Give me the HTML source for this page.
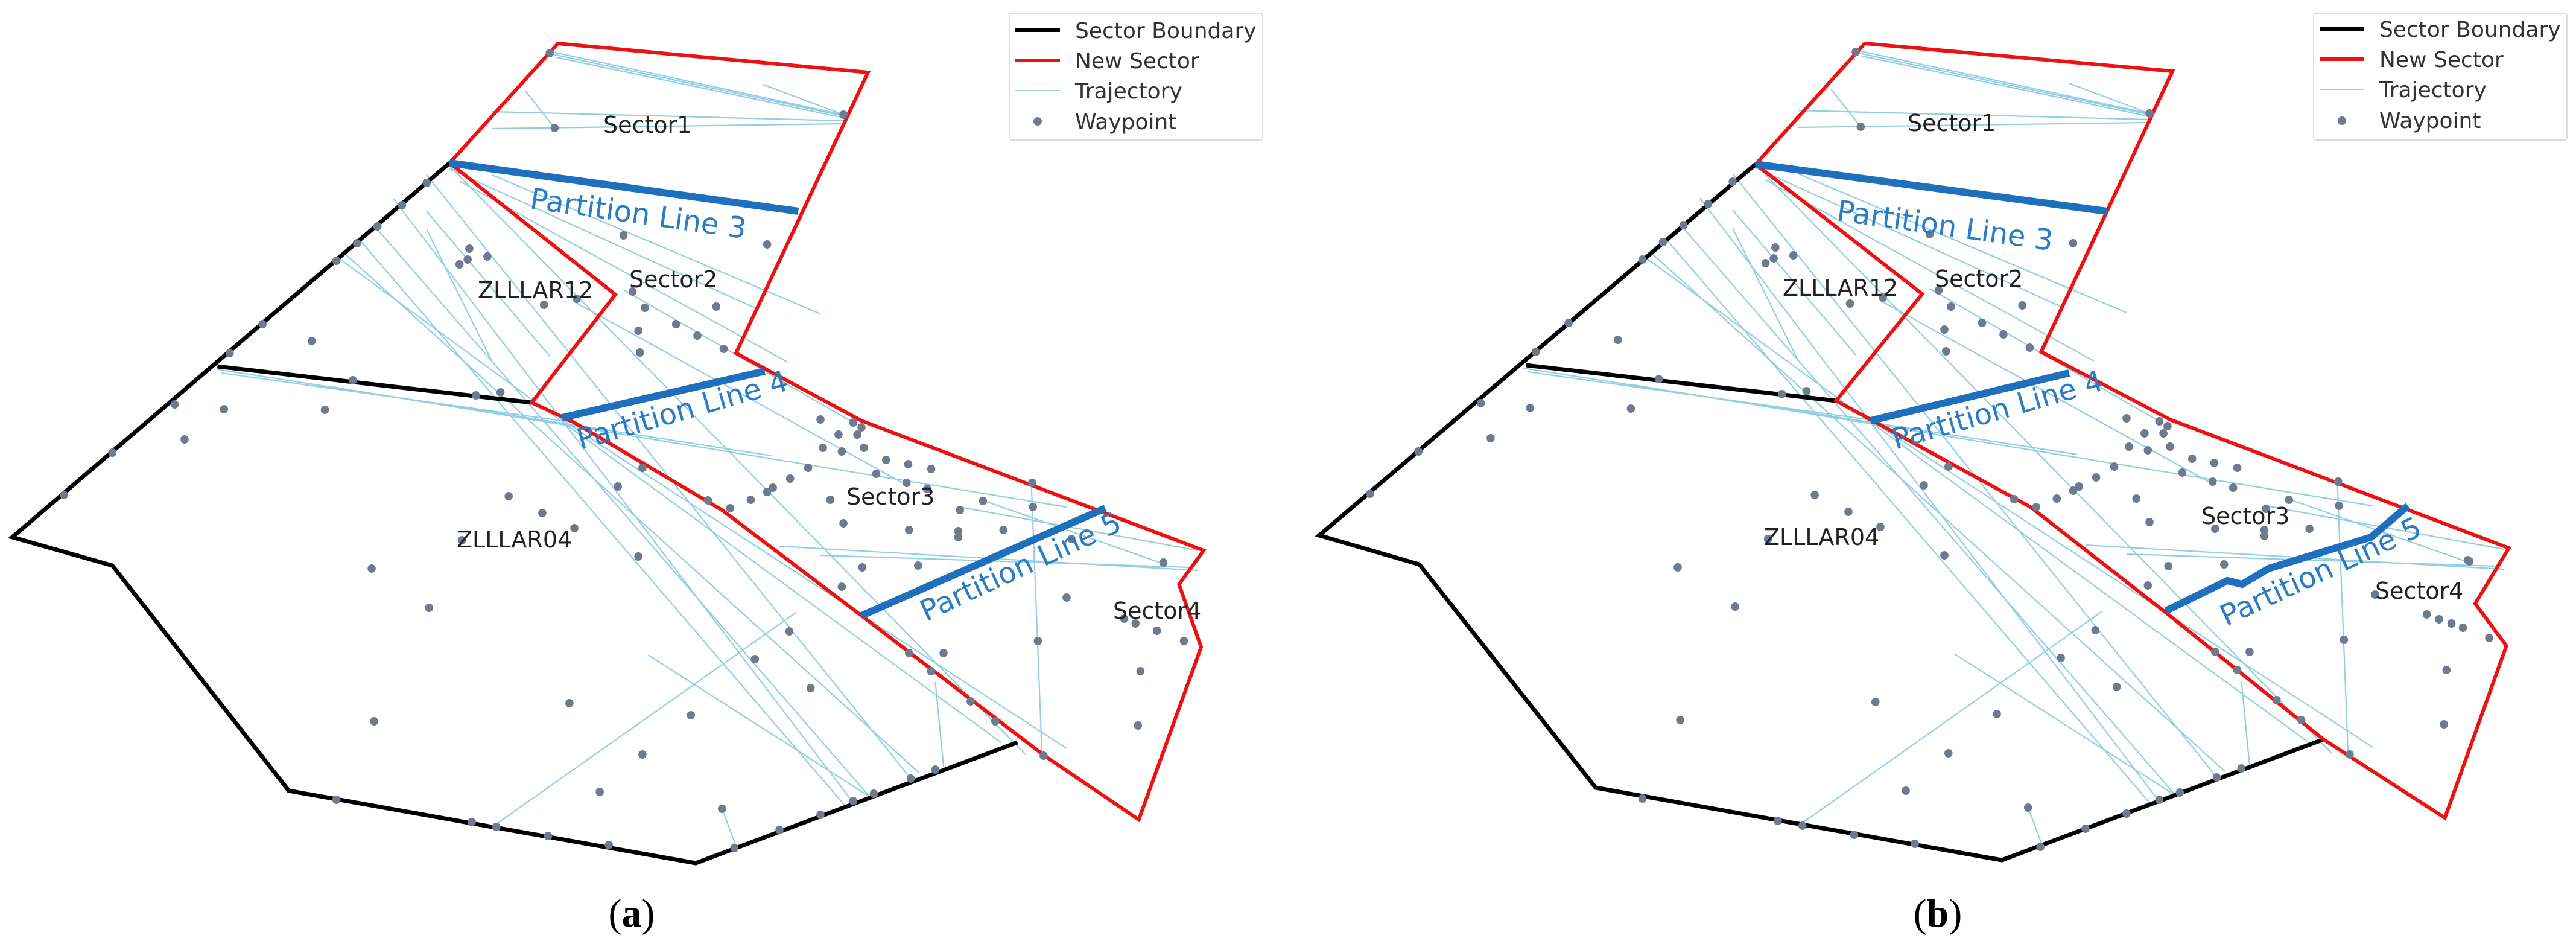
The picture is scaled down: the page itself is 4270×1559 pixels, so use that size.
<!DOCTYPE html>
<html><head><meta charset="utf-8"><style>
html,body{margin:0;padding:0;background:#fff;}
svg{display:block;}
</style></head><body>
<svg width="4270" height="1559" viewBox="0 0 4270 1559" xmlns="http://www.w3.org/2000/svg">
<defs>
<g id="traj" fill="none" stroke="#92cfe3" stroke-width="2.2" vector-effect="non-scaling-stroke">
<path vector-effect="non-scaling-stroke" d="M670,85L1028,190M674,90L1028,192M678,95L1028,195M640,150L676,212M600,185L1028,200M600,213L1028,205M930,140L1028,190
M520,290L1110,1290M480,330L1040,1330M440,400L1030,1335M420,420L1120,1280M415,430L1220,1230M548,275L1250,1250M460,380L1060,1320
M548,280L920,510M560,300L960,600M600,290L1000,520M265,612L940,755M270,618L700,700M400,640L1300,840
M600,1370L970,1015M790,1085L1060,1320M950,905L1460,945M1000,920L1450,940M1257,800L1270,1250M1140,1130L1150,1270
M1170,840L1460,912M1200,830L1420,935M880,1340L898,1405M520,350L670,590M520,380L600,600M760,480L1040,700M700,500L1100,800M690,700L1300,1240"/>
</g>
<g id="dots" fill="#6e7b8f">
<path d="" />
</g>
</defs>

<!-- PANEL A -->
<g transform="scale(1.36,1)">
<use href="#traj"/>
<g fill="none" stroke-linejoin="miter">
<polyline vector-effect="non-scaling-stroke" stroke="#000" stroke-width="7" points="548,270 15,890 137,937 352,1310 848,1430 1240,1230"/>
<polyline vector-effect="non-scaling-stroke" stroke="#000" stroke-width="7" points="265,607 648,667"/>
<polyline vector-effect="non-scaling-stroke" stroke="#ee1111" stroke-width="6" points="548,270 680,72 1058,120 897,585 1050,697 1467,912 1437,968 1464,1072 1388,1358 1273,1252 1050,1020 880,845 700,700 648,667 750,488 548,270"/>
<line vector-effect="non-scaling-stroke" stroke="#1f6fbf" stroke-width="12" x1="548" y1="270" x2="973" y2="350"/>
<line vector-effect="non-scaling-stroke" stroke="#1f6fbf" stroke-width="12" x1="685" y1="692" x2="932" y2="615"/>
<line vector-effect="non-scaling-stroke" stroke="#1f6fbf" stroke-width="12" x1="1050" y1="1020" x2="1347" y2="842"/>
</g>
<g id="dotsA" fill="#6e7b8f">
<g id="dotset">
<ellipse cx="520" cy="303" rx="5" ry="7"/><ellipse cx="490" cy="340" rx="5" ry="7"/><ellipse cx="460" cy="375" rx="5" ry="7"/><ellipse cx="435" cy="403" rx="5" ry="7"/><ellipse cx="410" cy="432" rx="5" ry="7"/><ellipse cx="320" cy="537" rx="5" ry="7"/><ellipse cx="280" cy="585" rx="5" ry="7"/><ellipse cx="213" cy="670" rx="5" ry="7"/><ellipse cx="137" cy="750" rx="5" ry="7"/><ellipse cx="78" cy="820" rx="5" ry="7"/>
<ellipse cx="410" cy="1325" rx="5" ry="7"/><ellipse cx="575" cy="1362" rx="5" ry="7"/><ellipse cx="605" cy="1370" rx="5" ry="7"/><ellipse cx="668" cy="1385" rx="5" ry="7"/><ellipse cx="742" cy="1400" rx="5" ry="7"/><ellipse cx="895" cy="1405" rx="5" ry="7"/><ellipse cx="950" cy="1375" rx="5" ry="7"/><ellipse cx="1000" cy="1350" rx="5" ry="7"/><ellipse cx="1040" cy="1327" rx="5" ry="7"/><ellipse cx="1065" cy="1315" rx="5" ry="7"/><ellipse cx="1110" cy="1290" rx="5" ry="7"/><ellipse cx="1140" cy="1275" rx="5" ry="7"/>
<ellipse cx="380" cy="565" rx="5" ry="7"/><ellipse cx="273" cy="678" rx="5" ry="7"/><ellipse cx="396" cy="679" rx="5" ry="7"/><ellipse cx="225" cy="728" rx="5" ry="7"/><ellipse cx="620" cy="822" rx="5" ry="7"/><ellipse cx="661" cy="850" rx="5" ry="7"/><ellipse cx="700" cy="875" rx="5" ry="7"/><ellipse cx="563" cy="895" rx="5" ry="7"/><ellipse cx="453" cy="942" rx="5" ry="7"/><ellipse cx="523" cy="1007" rx="5" ry="7"/><ellipse cx="456" cy="1195" rx="5" ry="7"/><ellipse cx="694" cy="1165" rx="5" ry="7"/><ellipse cx="783" cy="1250" rx="5" ry="7"/><ellipse cx="731" cy="1312" rx="5" ry="7"/><ellipse cx="880" cy="1340" rx="5" ry="7"/><ellipse cx="842" cy="1185" rx="5" ry="7"/><ellipse cx="988" cy="1140" rx="5" ry="7"/><ellipse cx="920" cy="1092" rx="5" ry="7"/><ellipse cx="962" cy="1046" rx="5" ry="7"/><ellipse cx="778" cy="922" rx="5" ry="7"/><ellipse cx="753" cy="806" rx="5" ry="7"/><ellipse cx="783" cy="775" rx="5" ry="7"/>
<ellipse cx="760" cy="390" rx="5" ry="7"/><ellipse cx="935" cy="405" rx="5" ry="7"/><ellipse cx="572" cy="412" rx="5" ry="7"/><ellipse cx="594" cy="425" rx="5" ry="7"/><ellipse cx="560" cy="438" rx="5" ry="7"/><ellipse cx="570" cy="430" rx="5" ry="7"/><ellipse cx="663" cy="505" rx="5" ry="7"/><ellipse cx="703" cy="495" rx="5" ry="7"/><ellipse cx="771" cy="483" rx="5" ry="7"/><ellipse cx="786" cy="510" rx="5" ry="7"/><ellipse cx="824" cy="537" rx="5" ry="7"/><ellipse cx="850" cy="556" rx="5" ry="7"/><ellipse cx="873" cy="508" rx="5" ry="7"/><ellipse cx="882" cy="578" rx="5" ry="7"/><ellipse cx="778" cy="548" rx="5" ry="7"/><ellipse cx="780" cy="584" rx="5" ry="7"/><ellipse cx="676" cy="212" rx="5" ry="7"/><ellipse cx="1028" cy="190" rx="5" ry="7"/><ellipse cx="670" cy="88" rx="5" ry="7"/><ellipse cx="610" cy="650" rx="5" ry="7"/><ellipse cx="580" cy="655" rx="5" ry="7"/><ellipse cx="430" cy="630" rx="5" ry="7"/>
<ellipse cx="1000" cy="695" rx="5" ry="7"/><ellipse cx="1040" cy="700" rx="5" ry="7"/><ellipse cx="1050" cy="708" rx="5" ry="7"/><ellipse cx="1022" cy="720" rx="5" ry="7"/><ellipse cx="1045" cy="720" rx="5" ry="7"/><ellipse cx="1003" cy="742" rx="5" ry="7"/><ellipse cx="1026" cy="748" rx="5" ry="7"/><ellipse cx="1053" cy="742" rx="5" ry="7"/><ellipse cx="1080" cy="762" rx="5" ry="7"/><ellipse cx="1107" cy="769" rx="5" ry="7"/><ellipse cx="1135" cy="777" rx="5" ry="7"/><ellipse cx="1068" cy="785" rx="5" ry="7"/><ellipse cx="1105" cy="800" rx="5" ry="7"/><ellipse cx="1130" cy="810" rx="5" ry="7"/><ellipse cx="985" cy="775" rx="5" ry="7"/><ellipse cx="963" cy="793" rx="5" ry="7"/><ellipse cx="942" cy="808" rx="5" ry="7"/><ellipse cx="935" cy="815" rx="5" ry="7"/><ellipse cx="915" cy="828" rx="5" ry="7"/><ellipse cx="890" cy="842" rx="5" ry="7"/><ellipse cx="863" cy="829" rx="5" ry="7"/><ellipse cx="1012" cy="828" rx="5" ry="7"/><ellipse cx="1028" cy="867" rx="5" ry="7"/><ellipse cx="1108" cy="878" rx="5" ry="7"/><ellipse cx="1170" cy="845" rx="5" ry="7"/><ellipse cx="1198" cy="830" rx="5" ry="7"/><ellipse cx="1258" cy="800" rx="5" ry="7"/><ellipse cx="1259" cy="840" rx="5" ry="7"/><ellipse cx="1223" cy="878" rx="5" ry="7"/><ellipse cx="1168" cy="880" rx="5" ry="7"/><ellipse cx="1168" cy="890" rx="5" ry="7"/><ellipse cx="1051" cy="940" rx="5" ry="7"/><ellipse cx="1119" cy="937" rx="5" ry="7"/><ellipse cx="1026" cy="972" rx="5" ry="7"/><ellipse cx="1418" cy="932" rx="5" ry="7"/><ellipse cx="1390" cy="1112" rx="5" ry="7"/><ellipse cx="1387" cy="1202" rx="5" ry="7"/><ellipse cx="1265" cy="1062" rx="5" ry="7"/><ellipse cx="1150" cy="1082" rx="5" ry="7"/><ellipse cx="1108" cy="1082" rx="5" ry="7"/><ellipse cx="1135" cy="1112" rx="5" ry="7"/><ellipse cx="1183" cy="1162" rx="5" ry="7"/><ellipse cx="1213" cy="1195" rx="5" ry="7"/><ellipse cx="1272" cy="1252" rx="5" ry="7"/>
</g>
<ellipse cx="1306" cy="893" rx="5" ry="7"/><ellipse cx="1300" cy="990" rx="5" ry="7"/><ellipse cx="1370" cy="1025" rx="5" ry="7"/><ellipse cx="1384" cy="1033" rx="5" ry="7"/><ellipse cx="1410" cy="1045" rx="5" ry="7"/><ellipse cx="1443" cy="1062" rx="5" ry="7"/>
</g>
</g>

<!-- PANEL B -->
<g transform="translate(2135,0) scale(1.36,1)">
<use href="#traj" transform="translate(22,-2)"/>
<g fill="none">
<polyline vector-effect="non-scaling-stroke" stroke="#000" stroke-width="7" points="570,272 38,887 160,935 375,1305 870,1425 1262,1225"/>
<polyline vector-effect="non-scaling-stroke" stroke="#000" stroke-width="7" points="290,605 668,664"/>
<polyline vector-effect="non-scaling-stroke" stroke="#ee1111" stroke-width="6" points="570,272 703,72 1078,118 918,583 1075,695 1488,908 1447,1000 1485,1070 1410,1355 1262,1225 1070,1015 905,840 710,695 668,664 773,487 570,272"/>
<line vector-effect="non-scaling-stroke" stroke="#1f6fbf" stroke-width="12" x1="570" y1="272" x2="998" y2="350"/>
<line vector-effect="non-scaling-stroke" stroke="#1f6fbf" stroke-width="12" x1="710" y1="697" x2="952" y2="618"/>
<polyline vector-effect="non-scaling-stroke" stroke="#1f6fbf" stroke-width="12" points="1070,1012 1145,962 1163,968 1195,942 1320,890 1365,838"/>
</g>
<g fill="#6e7b8f">
<use href="#dotset" transform="translate(22,-2)"/>
<ellipse cx="1325" cy="985" rx="5" ry="7"/><ellipse cx="1388" cy="1018" rx="5" ry="7"/><ellipse cx="1403" cy="1026" rx="5" ry="7"/><ellipse cx="1418" cy="1033" rx="5" ry="7"/><ellipse cx="1432" cy="1040" rx="5" ry="7"/><ellipse cx="1464" cy="1057" rx="5" ry="7"/><ellipse cx="1438" cy="928" rx="5" ry="7"/>
</g>
</g>

<!-- TEXT -->
<g font-family="'DejaVu Sans','Liberation Sans',sans-serif">
<!-- panel A -->
<g fill="#222" font-size="38">
<text x="1000" y="220">Sector1</text>
<text x="1043" y="476">Sector2</text>
<text x="792" y="494">ZLLLAR12</text>
<text x="1403" y="836">Sector3</text>
<text x="757" y="907">ZLLLAR04</text>
<text x="1845" y="1025">Sector4</text>
</g>
<g fill="#2a7cc4" font-size="48">
<text transform="translate(877,345) rotate(8)">Partition Line 3</text>
<text transform="translate(962,745) rotate(-16)">Partition Line 4</text>
<text transform="translate(1535,1030) rotate(-25)">Partition Line 5</text>
</g>
<!-- panel B -->
<g fill="#222" font-size="38">
<text x="3162" y="217">Sector1</text>
<text x="3207" y="475">Sector2</text>
<text x="2955" y="490">ZLLLAR12</text>
<text x="3649" y="868">Sector3</text>
<text x="2924" y="903">ZLLLAR04</text>
<text x="3937" y="992">Sector4</text>
</g>
<g fill="#2a7cc4" font-size="48">
<text transform="translate(3043,365) rotate(8)">Partition Line 3</text>
<text transform="translate(3142,745) rotate(-16)">Partition Line 4</text>
<text transform="translate(3690,1038) rotate(-25)">Partition Line 5</text>
</g>
<!-- legends -->
<g>
<rect x="1673" y="22" width="420" height="210" fill="#fff" stroke="#ddd" stroke-width="2" rx="4"/>
<line x1="1683" y1="50" x2="1757" y2="50" stroke="#000" stroke-width="6"/>
<line x1="1683" y1="100" x2="1757" y2="100" stroke="#ee1111" stroke-width="6"/>
<line x1="1683" y1="150" x2="1757" y2="150" stroke="#92cfe3" stroke-width="2"/>
<circle cx="1720" cy="201" r="7" fill="#6e7b8f"/>
<g fill="#333" font-size="36">
<text x="1782" y="63">Sector Boundary</text>
<text x="1782" y="113">New Sector</text>
<text x="1782" y="163">Trajectory</text>
<text x="1782" y="214">Waypoint</text>
</g>
</g>
<g transform="translate(2135,0)">
<rect x="1700" y="22" width="420" height="210" fill="#fff" stroke="#ddd" stroke-width="2" rx="4"/>
<line x1="1710" y1="48" x2="1784" y2="48" stroke="#000" stroke-width="6"/>
<line x1="1710" y1="98" x2="1784" y2="98" stroke="#ee1111" stroke-width="6"/>
<line x1="1710" y1="148" x2="1784" y2="148" stroke="#92cfe3" stroke-width="2"/>
<circle cx="1747" cy="200" r="7" fill="#6e7b8f"/>
<g fill="#333" font-size="36">
<text x="1809" y="61">Sector Boundary</text>
<text x="1809" y="111">New Sector</text>
<text x="1809" y="161">Trajectory</text>
<text x="1809" y="212">Waypoint</text>
</g>
</g>
</g>
<g font-family="'Liberation Serif',serif" font-size="66" fill="#000" text-anchor="middle">
<text x="1047" y="1535">(<tspan font-weight="bold">a</tspan>)</text>
<text x="3212" y="1535">(<tspan font-weight="bold">b</tspan>)</text>
</g>
</svg>
</body></html>
